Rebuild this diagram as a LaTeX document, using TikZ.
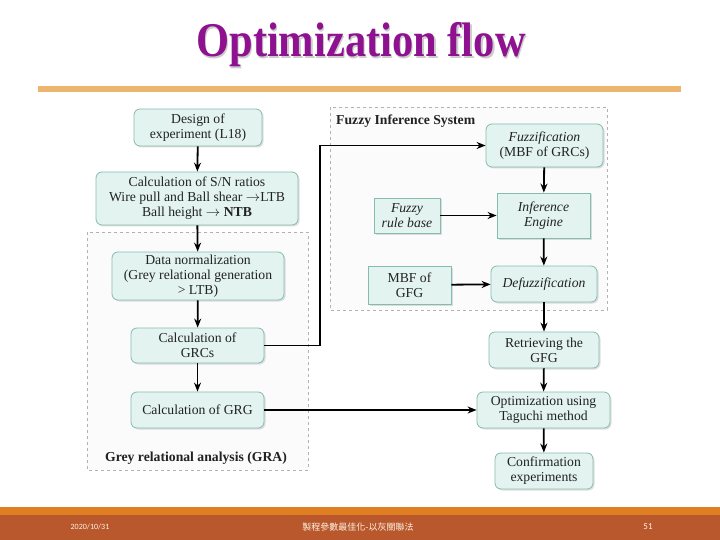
\documentclass[tikz,border=0pt]{standalone}
\usepackage{fontspec}
\setmainfont{Liberation Serif}
\newfontfamily\cjk{Noto Sans CJK TC}
\newfontfamily\footfont{Carlito}
\usetikzlibrary{arrows.meta,shadows}
\definecolor{titlepurple}{HTML}{8E1190}
\definecolor{ruleorange}{HTML}{EDB56E}
\definecolor{boxfill}{HTML}{E3F4F0}
\definecolor{boxline}{HTML}{86BBAF}
\definecolor{footlight}{HTML}{E07E22}
\definecolor{footdark}{HTML}{B9582C}
\definecolor{txt}{HTML}{222222}
\tikzset{
  base/.style={draw=boxline, fill=boxfill, line width=0.8pt, align=center,
    text=txt, font=\fontsize{13.7}{15}\selectfont, inner sep=1pt,
    drop shadow={shadow xshift=1.5pt, shadow yshift=-1.5pt, opacity=0.25, fill=gray}},
  rbox/.style={base, rounded corners=6pt},
  sbox/.style={base},
  region/.style={draw=gray!60, dashed, fill=gray!3, line width=0.7pt},
  arr/.style={-{Stealth[length=9pt,width=7pt]}, line width=1.8pt, black},
}
\begin{document}
\begin{tikzpicture}[x=1pt,y=-1pt]
\useasboundingbox (0,0) rectangle (720,540);
\fill[white] (0,0) rectangle (720,540);
% title
\node[text=gray!40, font=\fontsize{42.5}{45}\selectfont\bfseries, anchor=base, inner sep=0pt] at (362.5,58.5) {\scalebox{1}[1.14]{Optimization flow}};
\node (title) [text=titlepurple, font=\fontsize{42.5}{45}\selectfont\bfseries, anchor=base, inner sep=0pt] at (361,57) {\scalebox{1}[1.14]{Optimization flow}};
\fill[ruleorange] (38,86) rectangle (681,92);
% regions
\draw[region] (87,232) rectangle (308,470);
\draw[region] (330,107) rectangle (607,310);
\node (gralab) [font=\fontsize{13.7}{15}\selectfont\bfseries, text=txt] at (196,458) {Grey relational analysis (GRA)};
\node (fislab) [font=\fontsize{13.7}{15}\selectfont\bfseries, text=txt, anchor=west, inner sep=0pt] at (336,121) {Fuzzy Inference System};
% left column
\node (des) [rbox, minimum width=128pt, minimum height=37pt] at (198,127.5) {Design of\\experiment (L18)};
\node (sn) [rbox, minimum width=202pt, minimum height=53pt] at (197,198.5) {Calculation of S/N ratios\\Wire pull and Ball shear $\rightarrow$LTB\\Ball height $\rightarrow$ \textbf{NTB}};
\node (norm) [rbox, minimum width=172pt, minimum height=48pt] at (198,276) {Data normalization\\(Grey relational generation\\> LTB)};
\node (grcs) [rbox, minimum width=133pt, minimum height=35pt] at (197.5,345.5) {Calculation of\\GRCs};
\node (grg) [rbox, minimum width=133pt, minimum height=36pt] at (197.5,410) {Calculation of GRG};
% right column
\node (fuzz) [rbox, minimum width=117pt, minimum height=43pt] at (544.5,145.5) {\textit{Fuzzification}\\(MBF of GRCs)};
\node (inf) [sbox, minimum width=93pt, minimum height=45pt] at (543.5,215.5) {\textit{Inference}\\\textit{Engine}};
\node (rule) [sbox, minimum width=66pt, minimum height=35pt] at (407,215.5) {\textit{Fuzzy}\\\textit{rule base}};
\node (defz) [rbox, minimum width=106pt, minimum height=36pt] at (544,284) {\textit{Defuzzification}};
\node (mbf) [sbox, minimum width=83pt, minimum height=38pt] at (409.5,285) {MBF of\\GFG};
\node (ret) [rbox, minimum width=110pt, minimum height=36pt] at (544,350) {Retrieving the\\GFG};
\node (opt) [rbox, minimum width=133pt, minimum height=36pt] at (543.5,410) {Optimization using\\Taguchi method};
\node (conf) [rbox, minimum width=98pt, minimum height=36pt] at (544,471) {Confirmation\\experiments};
% arrows
\draw[arr] (des) -- (sn);
\draw[arr] (sn) -- (norm);
\draw[arr] (norm) -- (grcs);
\draw[arr] (grcs) -- (grg);
\draw[arr] (fuzz) -- (inf);
\draw[arr] (rule) -- (inf);
\draw[arr] (inf) -- (defz);
\draw[arr] (mbf) -- (defz);
\draw[arr] (defz) -- (ret);
\draw[arr] (ret) -- (opt);
\draw[arr] (opt) -- (conf);
\coordinate (bend) at (320,345.5);
\draw[arr] (grcs.east) -- (bend) |- (fuzz.west);
\draw[arr] (grg) -- (opt);
% footer
\fill[footlight] (0,507) rectangle (720,515);
\fill[footdark] (0,515) rectangle (720,540);
\node (date) [text=white!90!orange, font=\footfont\fontsize{8}{9}\selectfont] at (90,527) {2020/10/31};
\node (foot) [text=white!90!orange, font=\cjk\fontsize{9}{10}\selectfont] at (358,527) {製程參數最佳化-以灰關聯法};
\node (page) [text=white!90!orange, font=\footfont\fontsize{9}{10}\selectfont] at (648,527) {51};
\end{tikzpicture}
\end{document}
